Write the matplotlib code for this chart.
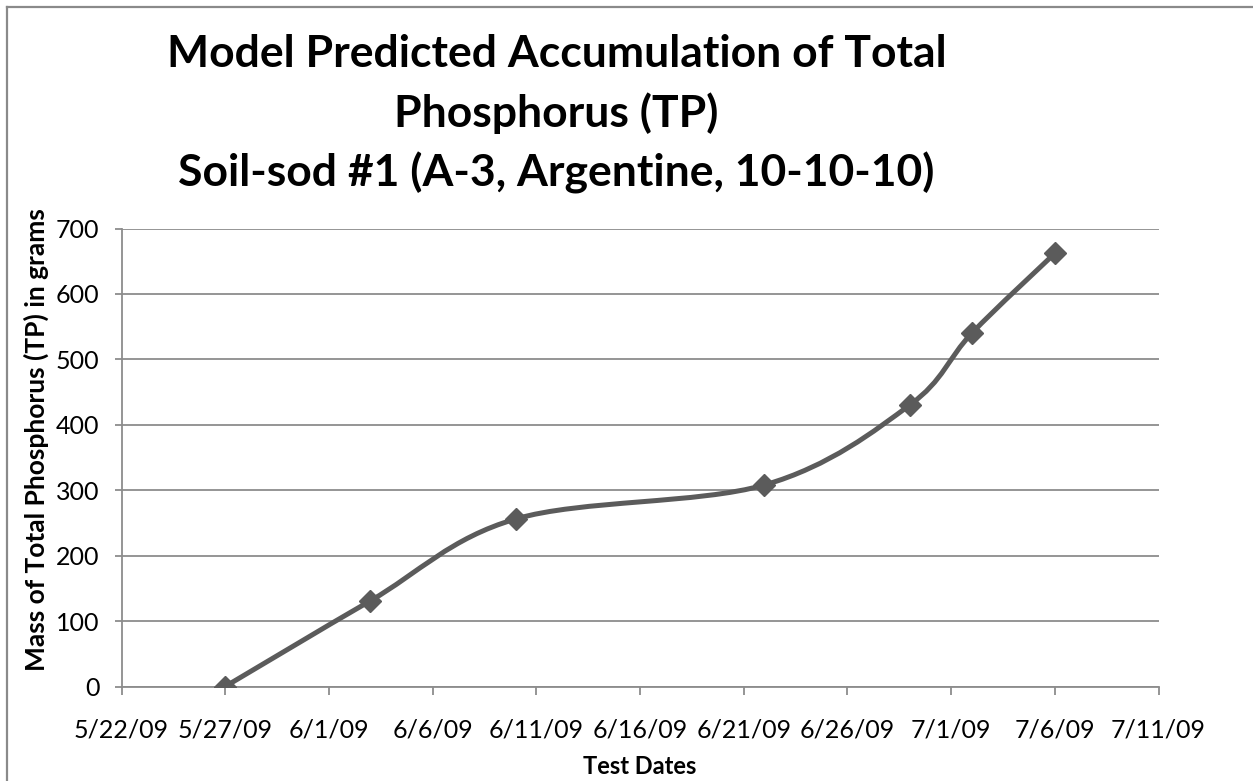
import datetime as dt

import matplotlib
matplotlib.use("Agg")
import matplotlib.dates as mdates
import matplotlib.pyplot as plt
import numpy as np
from matplotlib.lines import Line2D
from matplotlib.patches import PathPatch
from matplotlib.path import Path

plt.rcParams["font.family"] = ["Lato", "DejaVu Sans"]

# Test dates and model-predicted cumulative TP mass (grams)
test_dates = ["2009-05-27", "2009-06-03", "2009-06-10", "2009-06-22",
              "2009-06-29", "2009-07-02", "2009-07-06"]
tp_mass = [0, 131, 256, 308, 430, 540, 662]

title_lines = ["Model Predicted Accumulation of Total",
               "Phosphorus (TP)",
               "Soil-sod #1 (A-3, Argentine, 10-10-10)"]
x_label = "Test Dates"
y_label = "Mass of Total Phosphorus (TP) in grams"
x_start, x_end = "2009-05-22", "2009-07-11"
tick_step_days = 5
y_ticks = [0, 100, 200, 300, 400, 500, 600, 700]

LINE_COLOR = "#5b5b5b"
GRID_COLOR = "#8c8c8c"

fig = plt.figure(figsize=(12.53, 7.81), dpi=100)
ax = fig.add_axes([121.5 / 1253, 1 - 686.5 / 781, (1158.5 - 121.5) / 1253, (686.5 - 228.5) / 781])

x = mdates.date2num([dt.date.fromisoformat(d) for d in test_dates])
y = np.asarray(tp_mass, dtype=float)

# Smoothed line: cubic Bezier segments with Catmull-Rom control points
pts = np.column_stack([x, y])
ext = np.vstack([pts[0], pts, pts[-1]])
verts = [tuple(pts[0])]
codes = [Path.MOVETO]
for i in range(len(pts) - 1):
    p0, p1, p2, p3 = ext[i], ext[i + 1], ext[i + 2], ext[i + 3]
    c1 = p1 + (p2 - p0) / 6.0
    c2 = p2 - (p3 - p1) / 6.0
    verts += [tuple(c1), tuple(c2), tuple(p2)]
    codes += [Path.CURVE4] * 3
ax.add_patch(PathPatch(Path(verts, codes), facecolor="none", edgecolor=LINE_COLOR,
                       lw=3.6, capstyle="round", joinstyle="round", zorder=3))
ax.plot(x, y, linestyle="none", marker="D", markersize=11.5, color=LINE_COLOR, zorder=4)

d0 = dt.date.fromisoformat(x_start)
d1 = dt.date.fromisoformat(x_end)
tick_dates = [d0 + dt.timedelta(days=k) for k in range(0, (d1 - d0).days + 1, tick_step_days)]
ax.set_xlim(mdates.date2num(d0), mdates.date2num(d1))
ax.set_xticks(mdates.date2num(tick_dates))
ax.set_xticklabels([f"{d.month}/{d.day}/{d:%y}" for d in tick_dates])
ax.set_ylim(y_ticks[0], y_ticks[-1])
ax.set_yticks(y_ticks)

ax.grid(axis="y", color=GRID_COLOR, lw=1.3)
ax.set_axisbelow(True)
for side in ("top", "right"):
    ax.spines[side].set_visible(False)
for side in ("left", "bottom"):
    ax.spines[side].set_color(GRID_COLOR)
    ax.spines[side].set_linewidth(1.3)
ax.tick_params(axis="y", direction="out", length=5, width=1.3, color=GRID_COLOR,
               labelsize=18, pad=11)
ax.tick_params(axis="x", direction="out", length=6, width=1.3, color=GRID_COLOR,
               labelsize=18, pad=17)

fig.text(640 / 1253, 1 - 767 / 781, x_label, ha="center", va="center",
         fontsize=17, fontweight="bold")
fig.text(36.5 / 1253, 1 - 440 / 781, y_label, ha="center", va="center",
         rotation=90, fontsize=19, fontweight="bold")

for line, base in zip(title_lines, [67, 127, 187]):
    fig.text(556.5 / 1253, 1 - base / 781, line, ha="center", va="baseline",
             fontsize=32, fontweight="bold")

# Outer frame on the left and top edges
fig.add_artist(Line2D([6.5 / 1253, 6.5 / 1253], [0, 1 - 6.5 / 781],
                      transform=fig.transFigure, color="#8a8a8a", lw=1.6))
fig.add_artist(Line2D([6.5 / 1253, 1], [1 - 6.5 / 781, 1 - 6.5 / 781],
                      transform=fig.transFigure, color="#8a8a8a", lw=1.6))

fig.savefig("out.png", dpi=100)
